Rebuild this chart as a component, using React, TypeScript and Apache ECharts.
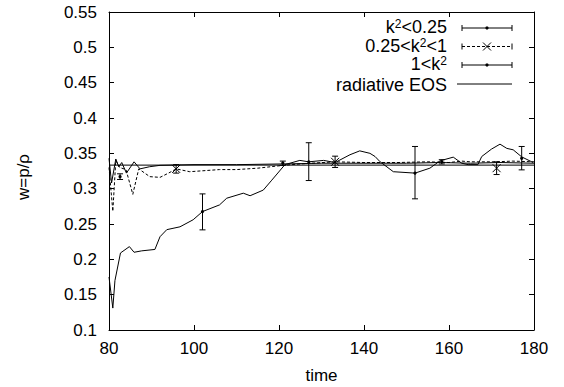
import React, { useEffect, useRef } from "react";
import * as echarts from "echarts";

const FONT = "'Liberation Sans', Arial, sans-serif";

// x-axis / y-axis ticks
const xMin = 80, xMax = 180, xStep = 20;
const yMin = 0.1, yMax = 0.55, yStep = 0.05;

// k^2 < 0.25  (solid, wiggly)
const t1 = [80, 80.9, 81.4, 82.7, 84.8, 85.9, 87.7, 90.8, 92, 93.6, 96.7, 99.8, 102, 106, 107.7, 111.6, 113.2, 116.3, 118.3, 121.4, 124.9, 127, 130.5, 133.2, 136.7, 139, 141.4, 142.6, 143.8, 146.9, 152, 155.5, 157.9, 161, 163, 164.5, 166.8, 167.7, 170, 172, 173.6, 175.1, 177.1, 179.8];
const v1 = [0.175, 0.131, 0.17, 0.209, 0.218, 0.21, 0.212, 0.214, 0.232, 0.242, 0.246, 0.256, 0.2676, 0.277, 0.2865, 0.2936, 0.29, 0.298, 0.312, 0.334, 0.34, 0.338, 0.34, 0.337, 0.348, 0.3535, 0.35, 0.3455, 0.338, 0.324, 0.322, 0.329, 0.3394, 0.3446, 0.336, 0.334, 0.334, 0.3455, 0.356, 0.363, 0.357, 0.355, 0.345, 0.337];
const e1T = [102, 127, 152, 177.1];
const e1V = [0.2676, 0.338, 0.322, 0.343];
const e1Lo = [0.2417, 0.3115, 0.2856, 0.3266];
const e1Hi = [0.2926, 0.365, 0.3597, 0.3597];

// 0.25 < k^2 < 1  (dashed)
const t2 = [80, 80.9, 81.6, 82.5, 84, 85.6, 87, 89.6, 92, 94, 95.8, 99, 106, 110, 115, 121, 125, 133, 140, 148, 155, 160, 163, 165, 171, 175, 180];
const v2 = [0.33, 0.268, 0.34, 0.33, 0.327, 0.292, 0.328, 0.317, 0.316, 0.322, 0.328, 0.324, 0.327, 0.327, 0.329, 0.333, 0.335, 0.338, 0.337, 0.337, 0.338, 0.337, 0.339, 0.338, 0.338, 0.339, 0.338];
const e2T = [95.8, 133.2, 171.2];
const e2V = [0.328, 0.338, 0.329];
const e2Lo = [0.322, 0.33, 0.32];
const e2Hi = [0.334, 0.346, 0.338];

// 1 < k^2  (solid, near 1/3)
const t3 = [80, 80.6, 81.6, 82.3, 83, 84.1, 85.9, 87.3, 89.5, 92, 100, 110, 121, 130, 140, 150, 158, 165, 172, 180];
const v3 = [0.343, 0.308, 0.342, 0.331, 0.337, 0.322, 0.338, 0.328, 0.331, 0.333, 0.334, 0.334, 0.335, 0.336, 0.336, 0.336, 0.337, 0.336, 0.337, 0.336];
const e3T = [82.6, 120.9, 158.3];
const e3V = [0.317, 0.336, 0.338];
const e3Lo = [0.313, 0.333, 0.335];
const e3Hi = [0.321, 0.339, 0.341];

// radiative EOS
const tRad = [80, 180];
const vRad = [1 / 3, 1 / 3];

const legendLabels = ["k{sup|2}<0.25", "0.25<k{sup|2}<1", "1<k{sup|2}", "radiative EOS"];

const pairs = (t: number[], v: number[]) => t.map((x, i) => [x, v[i]]);
const errRows = (t: number[], v: number[], lo: number[], hi: number[]) =>
  t.map((x, i) => [x, v[i], lo[i], hi[i]]);

const BLACK = "#000";

function crossShapes(cx: number, cy: number, r: number) {
  return [
    { type: "line", shape: { x1: cx - r, y1: cy - r, x2: cx + r, y2: cy + r }, style: { stroke: BLACK, lineWidth: 1 } },
    { type: "line", shape: { x1: cx - r, y1: cy + r, x2: cx + r, y2: cy - r }, style: { stroke: BLACK, lineWidth: 1 } },
  ];
}

function makeErrRender(marker: "dot" | "cross") {
  return (params: any, api: any) => {
    const t = api.value(0);
    const v = api.value(1);
    const lo = api.value(2);
    const hi = api.value(3);
    const p = api.coord([t, v]);
    const pl = api.coord([t, lo]);
    const ph = api.coord([t, hi]);
    const cap = 3;
    const st = { stroke: BLACK, lineWidth: 1 };
    const children: any[] = [
      { type: "line", shape: { x1: p[0], y1: pl[1], x2: p[0], y2: ph[1] }, style: st },
      { type: "line", shape: { x1: p[0] - cap, y1: pl[1], x2: p[0] + cap, y2: pl[1] }, style: st },
      { type: "line", shape: { x1: p[0] - cap, y1: ph[1], x2: p[0] + cap, y2: ph[1] }, style: st },
    ];
    if (marker === "dot") {
      children.push({ type: "circle", shape: { cx: p[0], cy: p[1], r: 1.6 }, style: { fill: BLACK } });
    } else {
      children.push(...crossShapes(p[0], p[1], 4));
    }
    return { type: "group", children };
  };
}

function legendGraphics() {
  const textRight = 447;
  const x0 = 462;
  const x1 = 512;
  const ys = [28, 46.5, 65, 84];
  const els: any[] = [];
  const st = { stroke: BLACK, lineWidth: 1 };
  legendLabels.forEach((label, i) => {
    const y = ys[i];
    els.push({
      type: "text",
      x: textRight,
      y: y + (i === 3 ? 1 : -1),
      style: {
        text: label,
        align: "right",
        verticalAlign: "middle",
        fontFamily: FONT,
        fontSize: 18,
        fill: BLACK,
        lineHeight: 18,
        rich: {
          sup: { fontSize: 12, fontFamily: FONT, fill: BLACK, verticalAlign: "top", lineHeight: 7 },
        },
      },
    });
    if (i === 3) {
      els.push({ type: "line", shape: { x1: 457, y1: y, x2: x1, y2: y }, style: st });
    } else {
      els.push({
        type: "line",
        shape: { x1: x0, y1: y, x2: x1, y2: y },
        style: i === 1 ? { stroke: BLACK, lineWidth: 1, lineDash: [3, 2] } : st,
      });
      els.push({ type: "line", shape: { x1: x0, y1: y - 3, x2: x0, y2: y + 3 }, style: st });
      els.push({ type: "line", shape: { x1: x1, y1: y - 3, x2: x1, y2: y + 3 }, style: st });
      const cx = (x0 + x1) / 2;
      if (i === 1) {
        els.push(...crossShapes(cx, y, 4));
      } else {
        els.push({ type: "circle", shape: { cx, cy: y, r: 1.6 }, style: { fill: BLACK } });
      }
    }
  });
  return els;
}

const axisCommon = {
  axisLine: { show: true, lineStyle: { color: BLACK, width: 1 } },
  splitLine: { show: false },
};

const option: any = {
  animation: false,
  backgroundColor: "#fff",
  grid: { left: 109, right: 30, top: 12, bottom: 57, containLabel: false, outerBoundsMode: "none" },
  xAxis: [
    {
      type: "value",
      min: xMin,
      max: xMax,
      interval: xStep,
      position: "bottom",
      name: "time",
      nameLocation: "middle",
      nameGap: 37,
      nameTextStyle: { fontFamily: FONT, fontSize: 17, color: BLACK },
      axisTick: { inside: true, length: 5, lineStyle: { color: BLACK } },
      axisLabel: { fontFamily: FONT, fontSize: 17, color: BLACK, margin: 10 },
      ...axisCommon,
    },
    {
      type: "value",
      min: xMin,
      max: xMax,
      interval: xStep,
      position: "top",
      axisTick: { inside: true, length: 5, lineStyle: { color: BLACK } },
      axisLabel: { show: false },
      ...axisCommon,
    },
  ],
  yAxis: [
    {
      type: "value",
      min: yMin,
      max: yMax,
      interval: yStep,
      position: "left",
      axisTick: { inside: true, length: 5, lineStyle: { color: BLACK } },
      axisLabel: {
        fontFamily: FONT,
        fontSize: 17,
        color: BLACK,
        margin: 12,
        formatter: (v: number) => String(Math.round(v * 100) / 100),
      },
      ...axisCommon,
    },
    {
      type: "value",
      min: yMin,
      max: yMax,
      interval: yStep,
      position: "right",
      axisTick: { inside: true, length: 5, lineStyle: { color: BLACK } },
      axisLabel: { show: false },
      ...axisCommon,
    },
  ],
  series: [
    {
      name: "radiative EOS",
      type: "line",
      data: pairs(tRad, vRad),
      symbol: "none",
      lineStyle: { color: BLACK, width: 1 },
      silent: true,
    },
    {
      name: "1<k2",
      type: "line",
      data: pairs(t3, v3),
      symbol: "none",
      lineStyle: { color: BLACK, width: 1 },
      silent: true,
    },
    {
      name: "0.25<k2<1",
      type: "line",
      data: pairs(t2, v2),
      symbol: "none",
      lineStyle: { color: BLACK, width: 1, type: [3, 2] },
      silent: true,
    },
    {
      name: "k2<0.25",
      type: "line",
      data: pairs(t1, v1),
      symbol: "none",
      lineStyle: { color: BLACK, width: 1 },
      silent: true,
    },
    {
      type: "custom",
      data: errRows(e1T, e1V, e1Lo, e1Hi),
      encode: { x: 0, y: [1, 2, 3] },
      renderItem: makeErrRender("dot"),
      silent: true,
    },
    {
      type: "custom",
      data: errRows(e2T, e2V, e2Lo, e2Hi),
      encode: { x: 0, y: [1, 2, 3] },
      renderItem: makeErrRender("cross"),
      silent: true,
    },
    {
      type: "custom",
      data: errRows(e3T, e3V, e3Lo, e3Hi),
      encode: { x: 0, y: [1, 2, 3] },
      renderItem: makeErrRender("dot"),
      silent: true,
    },
  ],
  graphic: [
    ...legendGraphics(),
    {
      type: "text",
      x: 23,
      y: 177,
      rotation: Math.PI / 2,
      style: {
        text: "w=p/ρ",
        align: "center",
        verticalAlign: "middle",
        fontFamily: FONT,
        fontSize: 17,
        fill: BLACK,
      },
    },
  ],
};

export default function App() {
  const ref = useRef<HTMLDivElement>(null);
  useEffect(() => {
    if (!ref.current) return;
    const chart = echarts.init(ref.current, null, { renderer: "svg" });
    chart.setOption(option);
    return () => chart.dispose();
  }, []);
  return (
    <div
      ref={ref}
      style={{ position: "fixed", left: 0, top: 0, width: 564, height: 387, background: "#fff" }}
    />
  );
}
